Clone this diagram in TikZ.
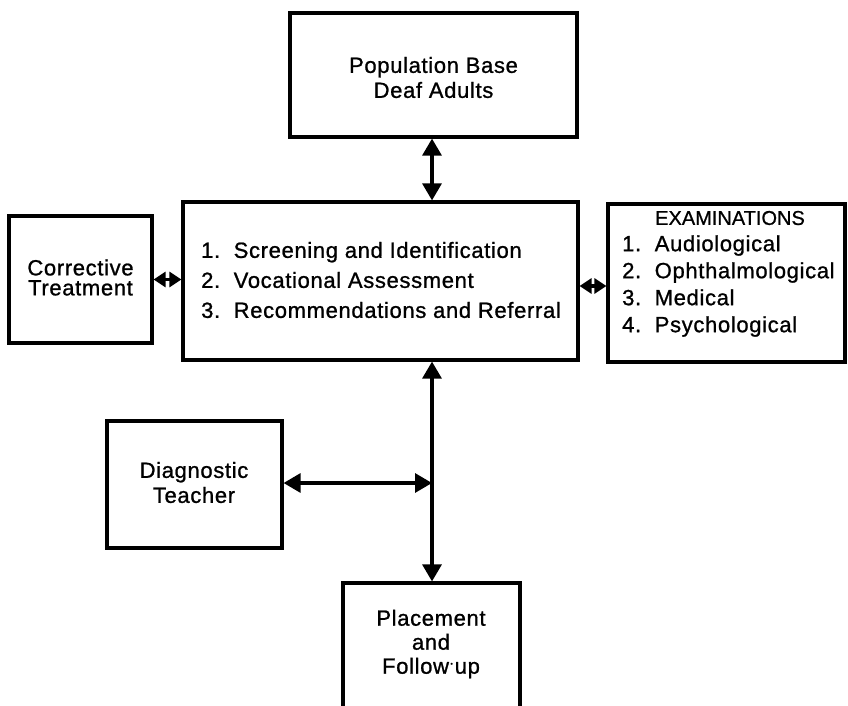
\documentclass[tikz,border=0pt]{standalone}
\usepackage{fontspec}
\usetikzlibrary{arrows.meta}
\newfontfamily\dfont[LetterSpace=3,FakeBold=1]{Liberation Sans}
\newfontfamily\dfontb[FakeBold=0.8]{Liberation Sans}
\begin{document}
\begin{tikzpicture}[x=1pt,y=-1pt,
  box/.style={draw, line width=3.2pt, rectangle, inner sep=0pt},
  lbl/.style={align=center, inner sep=0pt},
  conn/.style={line width=3.2pt, {Triangle[length=17pt,width=19pt]}-{Triangle[length=17pt,width=19pt]}},
  shortconn/.style={line width=3.2pt, {Triangle[length=12pt,width=15pt]}-{Triangle[length=12pt,width=15pt]}}]
\useasboundingbox (0,0) rectangle (848,706);
\clip (0,0) rectangle (848,706);
\tikzset{every node/.append style={font={\dfont\fontsize{22}{25}\selectfont}}}

% boxes
\node[box, minimum width=287pt, minimum height=124pt] (pop) at (433.5,75) {};
\node[lbl] (poptxt) at (433.5,77.5) {Population Base\\Deaf Adults};

\node[box, minimum width=395pt, minimum height=158pt] (main) at (380.5,281) {};
\node[lbl, align=left, font={\dfont\fontsize{22}{30}\selectfont}] (maintxt) at (381,280)
  {1.\ \ Screening and Identification\\2.\ \ Vocational Assessment\\3.\ \ Recommendations and Referral};

\node[box, minimum width=143pt, minimum height=127pt] (corr) at (80.5,279.5) {};
\node[lbl, font={\dfont\fontsize{22}{20}\selectfont}] (corrtxt) at (80.5,277.5) {Corrective\\Treatment};

\node[box, minimum width=237pt, minimum height=158pt] (exam) at (726.5,283) {};
\node[lbl, font={\dfontb\fontsize{20}{24}\selectfont}] (examhead) at (730,218) {EXAMINATIONS};
\node[lbl, align=left, anchor=west, font={\dfont\fontsize{22}{27}\selectfont}] (examlist) at (622,286)
  {1.\ \ Audiological\\2.\ \ Ophthalmological\\3.\ \ Medical\\4.\ \ Psychological};

\node[box, minimum width=175pt, minimum height=127pt] (diag) at (194.5,484.5) {};
\node[lbl] (diagtxt) at (194,482.5) {Diagnostic\\Teacher};

\node[box, minimum width=177pt, minimum height=160pt] (place) at (431.5,663) {};
\node[lbl, font={\dfont\fontsize{22}{24}\selectfont}] (placetxt) at (431,644) {Placement\\and\\Follow{\raisebox{0.35ex}{$\cdot$}}up};

% junction
\coordinate (j) at (432,483);

% connectors
\draw[conn] (pop.south -| j) -- (j |- main.north);
\draw[shortconn] (corr.east) -- (corr.east -| main.west);
\draw[shortconn] (main.east |- examlist.west) -- (exam.west |- examlist.west);
\draw[conn] (j |- main.south) -- (j |- place.north);
\draw[conn] (diag.east |- j) -- (j);
\end{tikzpicture}
\end{document}
